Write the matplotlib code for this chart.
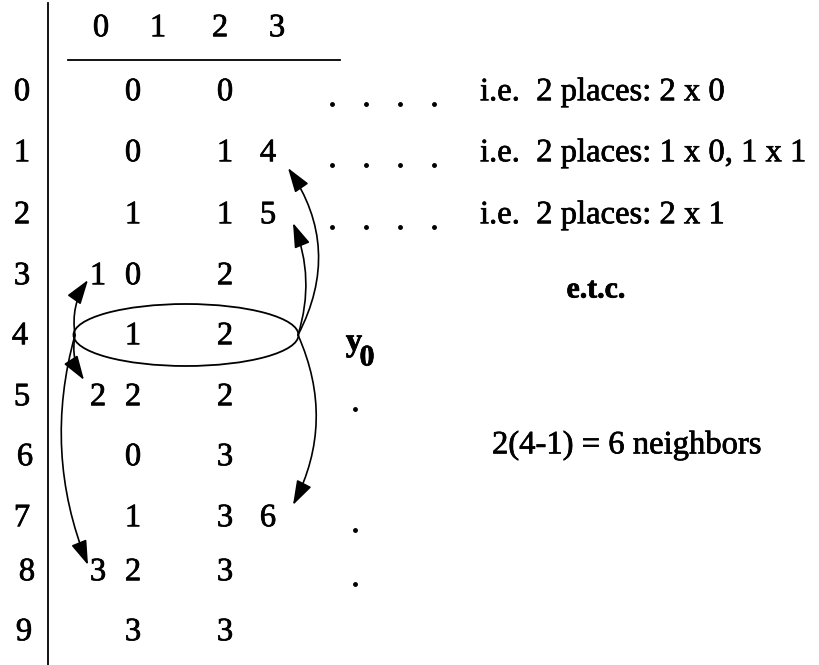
import matplotlib
matplotlib.use("Agg")
import matplotlib.pyplot as plt
import matplotlib.patheffects as pe
from matplotlib.patches import Ellipse, FancyArrowPatch

plt.rcParams['font.family'] = ['Liberation Serif', 'DejaVu Serif']

# datos de la tabla
encabezado = ['0', '1', '2', '3']
filas = ['0', '1', '2', '3', '4', '5', '6', '7', '8', '9']
primer_valor = ['0', '0', '1', '0', '1', '2', '0', '1', '2', '3']
segundo_valor = ['0', '1', '1', '2', '2', '2', '3', '3', '3', '3']
marcas_izq = {3: '1', 5: '2', 8: '3'}
marcas_der = {1: '4', 2: '5', 7: '6'}
notas = ['i.e.  2 places: 2 x 0', 'i.e.  2 places: 1 x 0, 1 x 1', 'i.e.  2 places: 2 x 1']
filas_puntos = [5, 7, 8]

# posiciones (pixeles)
y_fila = [92, 153, 215, 276, 336, 397, 457, 518, 572, 632]
x_fila = [22, 22, 22, 22, 20, 22, 25, 22, 27, 24]
x_encabezado = [101, 158, 220, 277]
fs = 23.5
trazo = [pe.withStroke(linewidth=0.5, foreground='black')]

fig = plt.figure(figsize=(8.2, 6.65), dpi=100)
ax = fig.add_axes([0, 0, 1, 1])
ax.set_xlim(0, 820)
ax.set_ylim(665, 0)
ax.axis('off')


def texto(x, y, s, **kw):
    kw.setdefault('fontsize', fs)
    kw.setdefault('ha', 'center')
    ax.text(x, y, s, va='center', path_effects=trazo, **kw)


# lineas de la tabla
ax.plot([48, 48], [3, 665], color='black', lw=1.3)
ax.plot([68, 340], [60, 60], color='black', lw=1.3)

for x, t in zip(x_encabezado, encabezado):
    texto(x, 28, t)

for i, y in enumerate(y_fila):
    texto(x_fila[i], y, filas[i])
    texto(133, y, primer_valor[i])
    texto(225, y, segundo_valor[i])
    if i in marcas_izq:
        texto(98, y, marcas_izq[i])
    if i in marcas_der:
        texto(268, y, marcas_der[i])

# puntos y notas
for i, nota in enumerate(notas):
    y = y_fila[i]
    ax.plot([332, 366, 400, 434], [y + 12] * 4, 'o', color='black', ms=2.5)
    texto(480, y, nota, ha='left')

for i in filas_puntos:
    ax.plot(355, y_fila[i] + 12, 'o', color='black', ms=2.5)

texto(596, 290, 'e.t.c.', fontsize=fs - 2, fontweight='bold')
texto(492, 445, '2(4-1) = 6 neighbors', ha='left')
texto(354, 342, 'y', fontweight='bold')
texto(367, 358, '0', fontsize=fs - 2, fontweight='bold')

# elipse y flechas
ax.add_patch(Ellipse((186, 335), 225, 62, fill=False, lw=1.3, color='black'))

flechas = [
    ((75, 335), (88, 280), -0.2),
    ((75, 335), (84, 380), 0.2),
    ((75, 335), (88, 565), 0.17),
    ((298, 335), (288, 168), 0.3),
    ((298, 335), (293, 223), 0.18),
    ((298, 335), (293, 505), -0.24),
]
for ini, fin, rad in flechas:
    ax.add_patch(FancyArrowPatch(ini, fin, connectionstyle=f'arc3,rad={rad}',
                                 arrowstyle='-|>,head_length=1.0,head_width=0.33',
                                 mutation_scale=15, lw=1.2, color='black',
                                 shrinkA=0, shrinkB=0))

plt.savefig('out.png', dpi=100)
